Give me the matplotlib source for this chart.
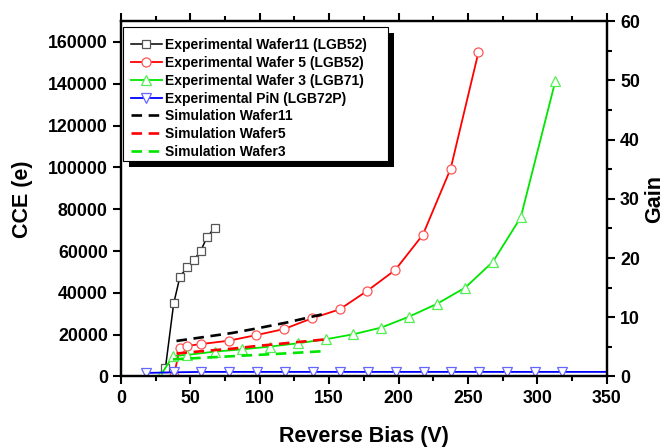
import matplotlib
matplotlib.use("Agg")
import matplotlib.pyplot as plt
from matplotlib.patches import Rectangle
from matplotlib.ticker import MultipleLocator

plt.rcParams['font.family'] = ['Liberation Sans', 'DejaVu Sans']
plt.rcParams['font.weight'] = 'bold'

# Experimental CCE vs reverse bias
w11_bias = [32, 38, 42.5, 47.5, 52.5, 57.5, 62, 67.5]
w11_cce = [3900, 35000, 47700, 52200, 55700, 60200, 66600, 71200]

w5_bias = [38, 42.5, 47.5, 57.5, 77.5, 97.5, 117.5, 137.5, 157.5, 177.5, 197.5, 217.5, 237.5, 257.5]
w5_cce = [0, 13800, 14600, 15500, 17100, 19800, 22700, 27800, 32100, 41000, 50900, 67800, 99400, 155000]

w3_bias = [28, 37.5, 47.5, 67.5, 87.5, 107.5, 127.5, 147.5, 167.5, 187.5, 207.5, 227.5, 248, 268, 288, 313]
w3_cce = [0, 9800, 10300, 11900, 13000, 14300, 15900, 17800, 20200, 23400, 28600, 34700, 42500, 54900, 76100, 141500]

pin_bias = [18, 38, 58, 78, 98, 118, 138, 158, 178, 198, 218, 238, 258, 278, 298, 318, 350]
pin_cce = [1700, 2000, 2200, 2200, 2200, 2200, 2200, 2200, 2200, 2200, 2200, 2200, 2200, 2200, 2200, 2200, 2200]

# Simulated CCE
sim11_bias = [40, 60, 80, 98, 120, 148]
sim11_cce = [17000, 18900, 20800, 23000, 25900, 30200]

sim5_bias = [40, 60, 80, 98, 120, 148]
sim5_cce = [11000, 12200, 13300, 14600, 16000, 17800]

sim3_bias = [37.5, 60, 80, 98, 120, 148]
sim3_cce = [8200, 9000, 9700, 10300, 11100, 12200]

GREEN = '#00e600'

fig = plt.figure(figsize=(6.72, 4.48), dpi=100)
ax = fig.add_axes([0.180, 0.1596, 0.723, 0.7934])

ax.plot(w11_bias, w11_cce, '-', color='black', lw=1.1, marker='s', ms=5.5,
        mfc='white', mec='#555555', mew=0.9, label='Experimental Wafer11 (LGB52)')
ax.plot(w5_bias, w5_cce, '-', color='red', lw=1.3, marker='o', ms=6.5,
        mfc='white', mec='#ff5555', mew=0.9, label='Experimental Wafer 5 (LGB52)')
ax.plot(w3_bias, w3_cce, '-', color=GREEN, lw=1.3, marker='^', ms=7,
        mfc='white', mec='#55ee55', mew=0.9, label='Experimental Wafer 3 (LGB71)')
ax.plot(pin_bias, pin_cce, '-', color='blue', lw=1.3, marker='v', ms=7,
        mfc='white', mec='#6666ff', mew=0.9, markevery=list(range(len(pin_bias) - 1)),
        label='Experimental PiN (LGB72P)')
ax.plot(sim11_bias, sim11_cce, color='black', lw=1.9, dashes=(4, 2.5), label='Simulation Wafer11')
ax.plot(sim5_bias, sim5_cce, color='red', lw=1.9, dashes=(4, 2.5), label='Simulation Wafer5')
ax.plot(sim3_bias, sim3_cce, color=GREEN, lw=1.9, dashes=(4, 2.5), label='Simulation Wafer3')

ax.set_xlim(0, 350)
ax.set_ylim(0, 170000)
ax.xaxis.set_major_locator(MultipleLocator(50))
ax.xaxis.set_minor_locator(MultipleLocator(25))
ax.yaxis.set_major_locator(MultipleLocator(20000))
ax.yaxis.set_minor_locator(MultipleLocator(10000))
ax.tick_params(axis='x', which='both', top=True, direction='out', width=1.5, labelsize=12.8)
ax.tick_params(axis='x', which='major', length=6)
ax.tick_params(axis='x', which='minor', length=3.5)
ax.tick_params(axis='y', which='major', length=6, width=1.5, labelsize=12.8, direction='out')
ax.tick_params(axis='y', which='minor', length=0)
for s in ax.spines.values():
    s.set_linewidth(1.6)

ax.set_xlabel('Reverse Bias (V)', fontsize=15.5, fontweight='bold', labelpad=14)
ax.set_ylabel('CCE (e)', fontsize=15.5, fontweight='bold', labelpad=11)

ax2 = ax.twinx()
ax2.set_ylim(0, 60)
ax2.yaxis.set_major_locator(MultipleLocator(10))
ax2.yaxis.set_minor_locator(MultipleLocator(5))
ax2.tick_params(axis='y', which='major', length=6, width=1.5, labelsize=12.8, direction='out')
ax2.tick_params(axis='y', which='minor', length=3.5, width=1.5, direction='out')
for s in ax2.spines.values():
    s.set_linewidth(1.6)
ax2.set_ylabel('Gain', fontsize=15.5, fontweight='bold', labelpad=3)

leg = ax2.legend(*ax.get_legend_handles_labels(), loc='upper left',
                 bbox_to_anchor=(0.0035, 0.975), fontsize=10, frameon=False,
                 handlelength=2.2, handletextpad=0.25, labelspacing=0.27,
                 borderpad=0.6, borderaxespad=0)
for t in leg.get_texts():
    t.set_fontweight('bold')
leg.set_zorder(11)

# Legend box drawn by hand: white panel with a solid offset shadow
fig.canvas.draw()
x0 = ax.transAxes.transform((0.0035, 0))[0]
top = fig.bbox.height - 27
width = 265
height = 134
off = 6
shadow = Rectangle((x0 + off, top - height - off), width, height,
                   transform=None, facecolor='black', edgecolor='none', zorder=9)
panel = Rectangle((x0, top - height), width, height, transform=None,
                  facecolor='white', edgecolor='black', lw=0.8, zorder=10)
ax2.add_artist(shadow)
ax2.add_artist(panel)

fig.savefig('out.png', dpi=100)
